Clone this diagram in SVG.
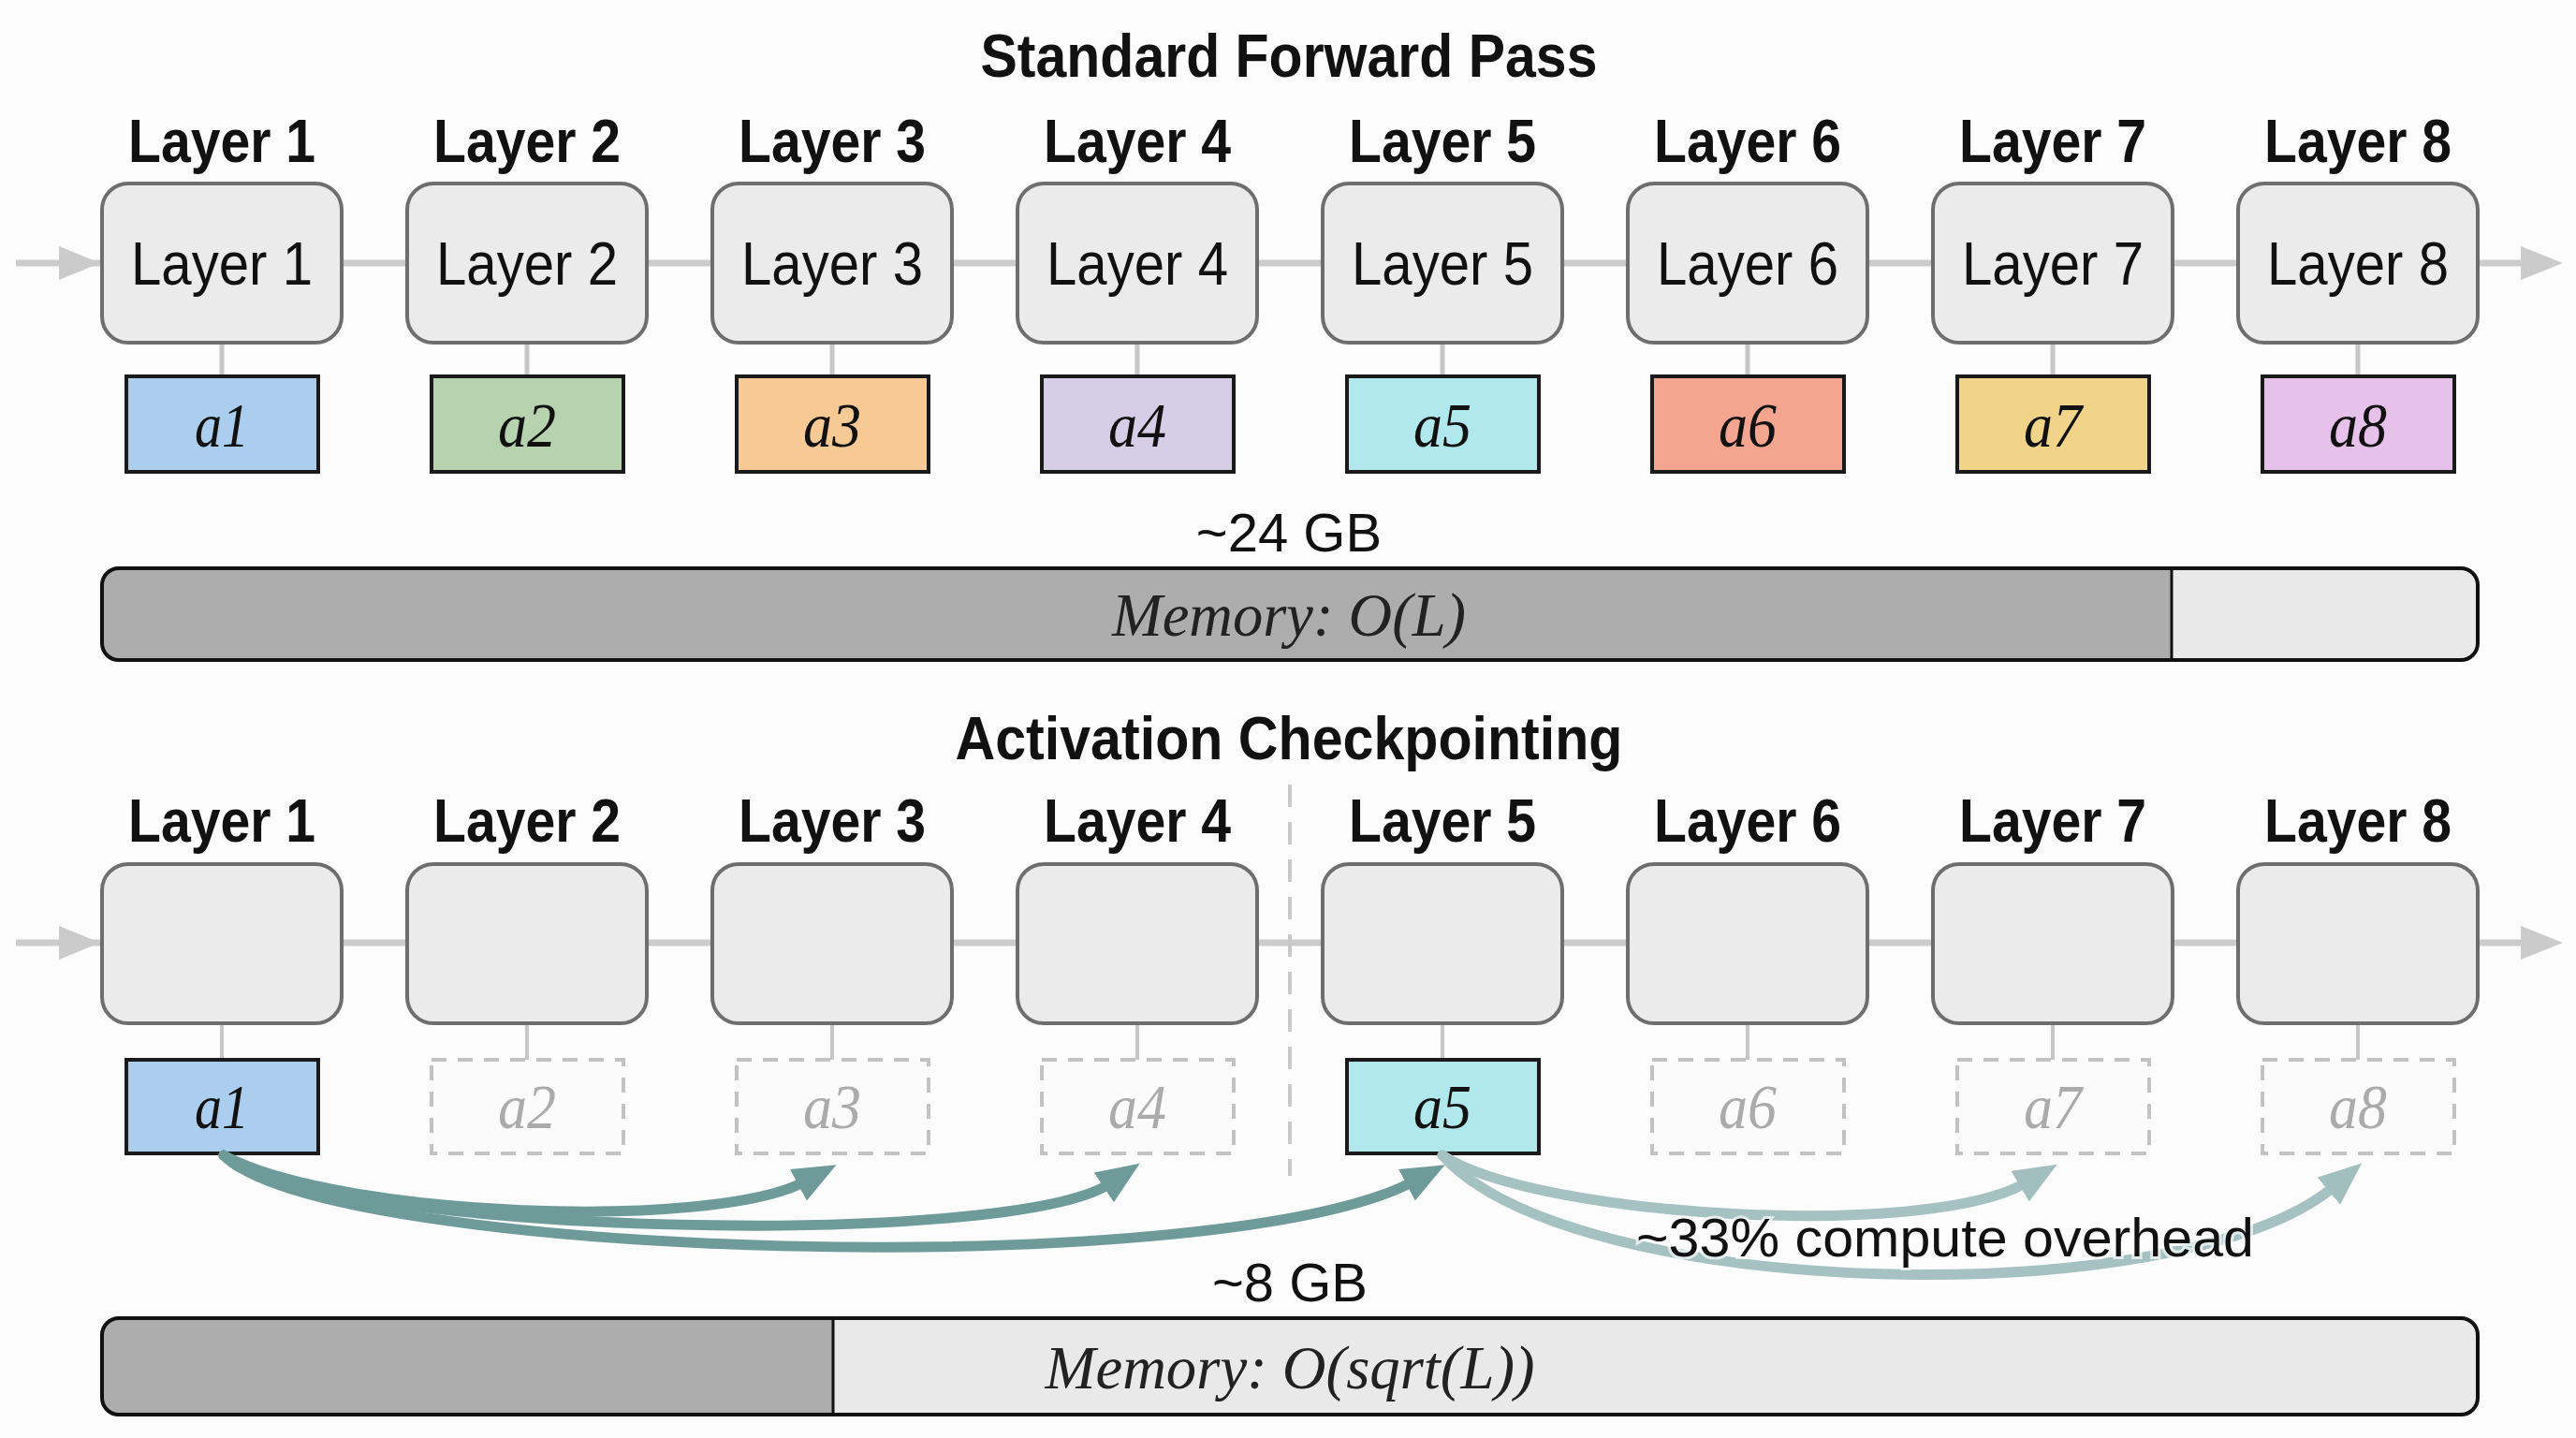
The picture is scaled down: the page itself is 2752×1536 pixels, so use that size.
<svg xmlns="http://www.w3.org/2000/svg" width="2752" height="1536" viewBox="0 0 2752 1536">
<style>
.bg{fill:#fcfcfc}
.title{font-family:"Liberation Sans",Arial,sans-serif;font-weight:bold;font-size:65px;fill:#111;text-anchor:middle}
.hdr{font-family:"Liberation Sans",Arial,sans-serif;font-weight:bold;font-size:64px;fill:#111;text-anchor:middle}
.box{fill:#ebebeb;stroke:#6e6e6e;stroke-width:4}
.boxtxt{font-family:"Liberation Sans",Arial,sans-serif;font-size:65px;fill:#111;text-anchor:middle}
.act{stroke:#1a1a1a;stroke-width:4}
.acttxt{font-family:"Liberation Serif","Times New Roman",serif;font-style:italic;font-size:68px;fill:#111;text-anchor:middle}
.ghost{fill:#fbfbfb;stroke:#c2c2c2;stroke-width:4;stroke-dasharray:16 12}
.ghosttxt{font-family:"Liberation Serif","Times New Roman",serif;font-style:italic;font-size:68px;fill:#ababab;text-anchor:middle}
.flow{stroke:#cbcbcb;stroke-width:7;fill:none}
.flowhead{fill:#cbcbcb}
.stub{stroke:#c6c6c6;stroke-width:5}
.stub2{stroke:#c6c6c6;stroke-width:4}
.lbl{font-family:"Liberation Sans",Arial,sans-serif;font-size:58px;fill:#111;text-anchor:middle}
.memtxt{font-family:"Liberation Serif","Times New Roman",serif;font-style:italic;font-size:66px;fill:#222;text-anchor:middle}
.dark{fill:#adadad}
.light{fill:#e9e9e9}
.barline{fill:none;stroke:#111;stroke-width:4}
.recomp{fill:none;stroke:#6f9a9a;stroke-width:11;stroke-linecap:round}
.recomp2{fill:none;stroke:#a6c1c1;stroke-width:11;stroke-linecap:round}
</style>
<defs>
<marker id="hd" markerUnits="userSpaceOnUse" markerWidth="48" markerHeight="40" refX="8" refY="19" orient="auto">
<path d="M0,0 L46,19 L0,38 z" fill="#6f9a9a"/>
</marker>
<marker id="hl" markerUnits="userSpaceOnUse" markerWidth="48" markerHeight="40" refX="8" refY="19" orient="auto">
<path d="M0,0 L46,19 L0,38 z" fill="#a2bebe"/>
</marker>
</defs>
<rect class="bg" x="0" y="0" width="2752" height="1536"/>

<text class="title" x="1377" y="82" textLength="659" lengthAdjust="spacingAndGlyphs">Standard Forward Pass</text>
<text class="title" x="1377" y="811" textLength="713" lengthAdjust="spacingAndGlyphs">Activation Checkpointing</text>

<g id="connectors">
<line class="flow" x1="17" y1="281" x2="2696" y2="281"/>
<polygon class="flowhead" points="63,263 107,281 63,299"/>
<polygon class="flowhead" points="2693,263 2738,281 2693,299"/>
<line class="flow" x1="17" y1="1007" x2="2696" y2="1007"/>
<polygon class="flowhead" points="63,989 107,1007 63,1025"/>
<polygon class="flowhead" points="2693,989 2738,1007 2693,1025"/>
<line class="stub" x1="237" y1="366" x2="237" y2="402"/>
<line class="stub" x1="563" y1="366" x2="563" y2="402"/>
<line class="stub" x1="889" y1="366" x2="889" y2="402"/>
<line class="stub" x1="1215" y1="366" x2="1215" y2="402"/>
<line class="stub" x1="1541" y1="366" x2="1541" y2="402"/>
<line class="stub" x1="1867" y1="366" x2="1867" y2="402"/>
<line class="stub" x1="2193" y1="366" x2="2193" y2="402"/>
<line class="stub" x1="2519" y1="366" x2="2519" y2="402"/>
<line class="stub2" x1="237" y1="1093" x2="237" y2="1132"/>
<line class="stub2" x1="563" y1="1093" x2="563" y2="1132"/>
<line class="stub2" x1="889" y1="1093" x2="889" y2="1132"/>
<line class="stub2" x1="1215" y1="1093" x2="1215" y2="1132"/>
<line class="stub2" x1="1541" y1="1093" x2="1541" y2="1132"/>
<line class="stub2" x1="1867" y1="1093" x2="1867" y2="1132"/>
<line class="stub2" x1="2193" y1="1093" x2="2193" y2="1132"/>
<line class="stub2" x1="2519" y1="1093" x2="2519" y2="1132"/>
<line x1="1378" y1="838" x2="1378" y2="1256" stroke="#c8c8c8" stroke-width="4" stroke-dasharray="24 16"/>
</g>

<g id="row1">
<g id="l1"><text class="hdr" x="237" y="173" textLength="200" lengthAdjust="spacingAndGlyphs">Layer 1</text><rect class="box" x="109" y="196" width="256" height="170" rx="28"/><text class="boxtxt" x="237" y="304" textLength="194" lengthAdjust="spacingAndGlyphs">Layer 1</text></g>
<g id="l2"><text class="hdr" x="563" y="173" textLength="200" lengthAdjust="spacingAndGlyphs">Layer 2</text><rect class="box" x="435" y="196" width="256" height="170" rx="28"/><text class="boxtxt" x="563" y="304" textLength="194" lengthAdjust="spacingAndGlyphs">Layer 2</text></g>
<g id="l3"><text class="hdr" x="889" y="173" textLength="200" lengthAdjust="spacingAndGlyphs">Layer 3</text><rect class="box" x="761" y="196" width="256" height="170" rx="28"/><text class="boxtxt" x="889" y="304" textLength="194" lengthAdjust="spacingAndGlyphs">Layer 3</text></g>
<g id="l4"><text class="hdr" x="1215" y="173" textLength="200" lengthAdjust="spacingAndGlyphs">Layer 4</text><rect class="box" x="1087" y="196" width="256" height="170" rx="28"/><text class="boxtxt" x="1215" y="304" textLength="194" lengthAdjust="spacingAndGlyphs">Layer 4</text></g>
<g id="l5"><text class="hdr" x="1541" y="173" textLength="200" lengthAdjust="spacingAndGlyphs">Layer 5</text><rect class="box" x="1413" y="196" width="256" height="170" rx="28"/><text class="boxtxt" x="1541" y="304" textLength="194" lengthAdjust="spacingAndGlyphs">Layer 5</text></g>
<g id="l6"><text class="hdr" x="1867" y="173" textLength="200" lengthAdjust="spacingAndGlyphs">Layer 6</text><rect class="box" x="1739" y="196" width="256" height="170" rx="28"/><text class="boxtxt" x="1867" y="304" textLength="194" lengthAdjust="spacingAndGlyphs">Layer 6</text></g>
<g id="l7"><text class="hdr" x="2193" y="173" textLength="200" lengthAdjust="spacingAndGlyphs">Layer 7</text><rect class="box" x="2065" y="196" width="256" height="170" rx="28"/><text class="boxtxt" x="2193" y="304" textLength="194" lengthAdjust="spacingAndGlyphs">Layer 7</text></g>
<g id="l8"><text class="hdr" x="2519" y="173" textLength="200" lengthAdjust="spacingAndGlyphs">Layer 8</text><rect class="box" x="2391" y="196" width="256" height="170" rx="28"/><text class="boxtxt" x="2519" y="304" textLength="194" lengthAdjust="spacingAndGlyphs">Layer 8</text></g>
<g id="a1"><rect class="act" x="135" y="402" width="205" height="102" fill="#abcdee"/><text class="acttxt" x="237" y="477" textLength="58" lengthAdjust="spacingAndGlyphs">a1</text></g>
<g id="a2"><rect class="act" x="461" y="402" width="205" height="102" fill="#b7d2ae"/><text class="acttxt" x="563" y="477" textLength="62" lengthAdjust="spacingAndGlyphs">a2</text></g>
<g id="a3"><rect class="act" x="787" y="402" width="205" height="102" fill="#f6c995"/><text class="acttxt" x="889" y="477" textLength="62" lengthAdjust="spacingAndGlyphs">a3</text></g>
<g id="a4"><rect class="act" x="1113" y="402" width="205" height="102" fill="#d6cde7"/><text class="acttxt" x="1215" y="477" textLength="62" lengthAdjust="spacingAndGlyphs">a4</text></g>
<g id="a5"><rect class="act" x="1439" y="402" width="205" height="102" fill="#b0e8ed"/><text class="acttxt" x="1541" y="477" textLength="62" lengthAdjust="spacingAndGlyphs">a5</text></g>
<g id="a6"><rect class="act" x="1765" y="402" width="205" height="102" fill="#f3a58f"/><text class="acttxt" x="1867" y="477" textLength="62" lengthAdjust="spacingAndGlyphs">a6</text></g>
<g id="a7"><rect class="act" x="2091" y="402" width="205" height="102" fill="#f1d489"/><text class="acttxt" x="2193" y="477" textLength="62" lengthAdjust="spacingAndGlyphs">a7</text></g>
<g id="a8"><rect class="act" x="2417" y="402" width="205" height="102" fill="#e6c1e9"/><text class="acttxt" x="2519" y="477" textLength="62" lengthAdjust="spacingAndGlyphs">a8</text></g>
</g>

<g id="mem1">
<text class="lbl" x="1377" y="589">~24 GB</text>
<rect class="light" x="109" y="607" width="2538" height="98" rx="18"/>
<path class="dark" d="M2320,607 L127,607 Q109,607 109,625 L109,687 Q109,705 127,705 L2320,705 Z"/>
<line x1="2320" y1="607" x2="2320" y2="705" stroke="#111" stroke-width="3"/>
<rect class="barline" x="109" y="607" width="2538" height="98" rx="18"/>
<text class="memtxt" x="1377" y="679" textLength="378" lengthAdjust="spacingAndGlyphs">Memory: O(L)</text>
</g>

<g id="row2">
<g id="m1"><text class="hdr" x="237" y="899" textLength="200" lengthAdjust="spacingAndGlyphs">Layer 1</text><rect class="box" x="109" y="923" width="256" height="170" rx="28"/></g>
<g id="m2"><text class="hdr" x="563" y="899" textLength="200" lengthAdjust="spacingAndGlyphs">Layer 2</text><rect class="box" x="435" y="923" width="256" height="170" rx="28"/></g>
<g id="m3"><text class="hdr" x="889" y="899" textLength="200" lengthAdjust="spacingAndGlyphs">Layer 3</text><rect class="box" x="761" y="923" width="256" height="170" rx="28"/></g>
<g id="m4"><text class="hdr" x="1215" y="899" textLength="200" lengthAdjust="spacingAndGlyphs">Layer 4</text><rect class="box" x="1087" y="923" width="256" height="170" rx="28"/></g>
<g id="m5"><text class="hdr" x="1541" y="899" textLength="200" lengthAdjust="spacingAndGlyphs">Layer 5</text><rect class="box" x="1413" y="923" width="256" height="170" rx="28"/></g>
<g id="m6"><text class="hdr" x="1867" y="899" textLength="200" lengthAdjust="spacingAndGlyphs">Layer 6</text><rect class="box" x="1739" y="923" width="256" height="170" rx="28"/></g>
<g id="m7"><text class="hdr" x="2193" y="899" textLength="200" lengthAdjust="spacingAndGlyphs">Layer 7</text><rect class="box" x="2065" y="923" width="256" height="170" rx="28"/></g>
<g id="m8"><text class="hdr" x="2519" y="899" textLength="200" lengthAdjust="spacingAndGlyphs">Layer 8</text><rect class="box" x="2391" y="923" width="256" height="170" rx="28"/></g>
<g id="c1"><rect class="act" x="135" y="1132" width="205" height="100" fill="#abcdee"/><text class="acttxt" x="237" y="1205" textLength="58" lengthAdjust="spacingAndGlyphs">a1</text></g>
<g id="c2"><rect class="ghost" x="461" y="1132" width="205" height="100"/><text class="ghosttxt" x="563" y="1205" textLength="62" lengthAdjust="spacingAndGlyphs">a2</text></g>
<g id="c3"><rect class="ghost" x="787" y="1132" width="205" height="100"/><text class="ghosttxt" x="889" y="1205" textLength="62" lengthAdjust="spacingAndGlyphs">a3</text></g>
<g id="c4"><rect class="ghost" x="1113" y="1132" width="205" height="100"/><text class="ghosttxt" x="1215" y="1205" textLength="62" lengthAdjust="spacingAndGlyphs">a4</text></g>
<g id="c5"><rect class="act" x="1439" y="1132" width="205" height="100" fill="#b0e8ed"/><text class="acttxt" x="1541" y="1205" textLength="62" lengthAdjust="spacingAndGlyphs">a5</text></g>
<g id="c6"><rect class="ghost" x="1765" y="1132" width="205" height="100"/><text class="ghosttxt" x="1867" y="1205" textLength="62" lengthAdjust="spacingAndGlyphs">a6</text></g>
<g id="c7"><rect class="ghost" x="2091" y="1132" width="205" height="100"/><text class="ghosttxt" x="2193" y="1205" textLength="62" lengthAdjust="spacingAndGlyphs">a7</text></g>
<g id="c8"><rect class="ghost" x="2417" y="1132" width="205" height="100"/><text class="ghosttxt" x="2519" y="1205" textLength="62" lengthAdjust="spacingAndGlyphs">a8</text></g>
</g>

<g id="recompute">
<path class="recomp" d="M239,1234 C360,1300 760,1315 860,1262" marker-end="url(#hd)"/>
<path class="recomp" d="M239,1234 C350,1320 1080,1335 1186,1264" marker-end="url(#hd)"/>
<path class="recomp" d="M239,1234 C350,1345 1300,1372 1510,1262" marker-end="url(#hd)"/>
<path class="recomp2" d="M1541,1234 C1640,1300 2060,1325 2165,1263" marker-end="url(#hl)"/>
<path class="recomp2" d="M1541,1234 C1680,1390 2330,1405 2494,1267" marker-end="url(#hl)"/>
</g>
<text class="lbl" x="1748" y="1342" font-size="59" style="text-anchor:start" textLength="660" lengthAdjust="spacingAndGlyphs" stroke="#fcfcfc" stroke-width="6" stroke-opacity="0.7" paint-order="stroke">~33% compute overhead</text>

<g id="mem2">
<text class="lbl" x="1378" y="1390">~8 GB</text>
<rect class="light" x="109" y="1408" width="2538" height="103" rx="18"/>
<path class="dark" d="M890,1408 L127,1408 Q109,1408 109,1426 L109,1493 Q109,1511 127,1511 L890,1511 Z"/>
<line x1="890" y1="1408" x2="890" y2="1511" stroke="#111" stroke-width="3"/>
<rect class="barline" x="109" y="1408" width="2538" height="103" rx="18"/>
<text class="memtxt" x="1378" y="1483" textLength="523" lengthAdjust="spacingAndGlyphs">Memory: O(sqrt(L))</text>
</g>
</svg>
